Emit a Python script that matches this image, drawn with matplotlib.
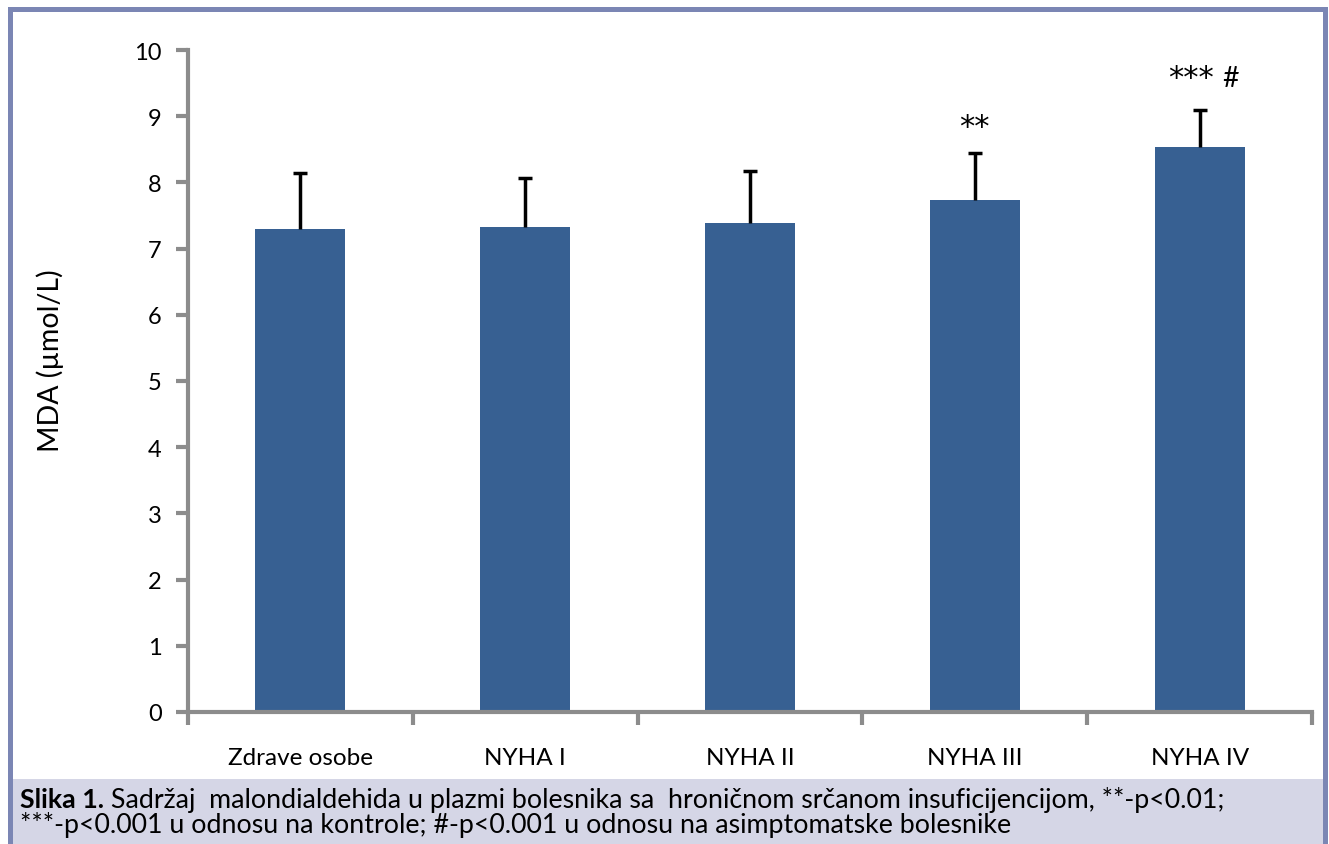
import matplotlib
matplotlib.use("Agg")
import matplotlib.pyplot as plt
from matplotlib.patches import Rectangle

categories = ["Zdrave osobe", "NYHA I", "NYHA II", "NYHA III", "NYHA IV"]
means = [7.30, 7.33, 7.39, 7.74, 8.53]
sds = [0.84, 0.74, 0.78, 0.71, 0.56]
annotations = ["", "", "", "**", "***"]
annotations2 = ["", "", "", "", "#"]
y_ticks = list(range(0, 11))
y_label = "MDA (µmol/L)"
caption_bold = "Slika 1."
caption_line1 = " Sadržaj  malondialdehida u plazmi bolesnika sa  hroničnom srčanom insuficijencijom, **-p<0.01;"
caption_line2 = "***-p<0.001 u odnosu na kontrole; #-p<0.001 u odnosu na asimptomatske bolesnike"

plt.rcParams['font.family'] = ['Lato', 'DejaVu Sans']

W, H = 1329, 845
fig = plt.figure(figsize=(W / 100, H / 100), dpi=100)

def px(x, y):
    return x / W, 1 - y / H

# frame and caption background
frame_col = "#7b86b4"
fig.patches.append(Rectangle(px(13, 845), (1323 - 13) / W, (845 - 780) / H,
                             transform=fig.transFigure, facecolor="#d5d6e6", edgecolor="none", zorder=0))
fig.patches.append(Rectangle(px(8, 845), 5 / W, (845 - 8) / H, transform=fig.transFigure,
                             facecolor=frame_col, edgecolor="none", zorder=1))
fig.patches.append(Rectangle(px(1323, 845), 5 / W, (845 - 8) / H, transform=fig.transFigure,
                             facecolor=frame_col, edgecolor="none", zorder=1))
fig.patches.append(Rectangle(px(8, 13), (1328 - 8) / W, 5 / H, transform=fig.transFigure,
                             facecolor=frame_col, edgecolor="none", zorder=1))

left, right = 188 / W, 1312 / W
bottom, top = 1 - 713 / H, 1 - 51 / H
ax = fig.add_axes([left, bottom, right - left, top - bottom])
ax.patch.set_alpha(0)

x = list(range(len(categories)))
ax.bar(x, means, width=0.4, color="#376092", zorder=2)
eb = ax.errorbar(x, means, yerr=[[0] * len(sds), sds], fmt="none", ecolor="black",
                 elinewidth=2.5, capsize=5, capthick=2.5, zorder=3)
eb[1][0].set_visible(False)  # hide lower caps

for xi, m, s, a, b in zip(x, means, sds, annotations, annotations2):
    if a and not b:
        ax.text(xi, m + s + 0.27, a, ha="center", va="baseline", fontsize=22,
                family="DejaVu Sans", color="black")
    elif a:
        ax.text(xi - 0.038, m + s + 0.36, a, ha="center", va="baseline", fontsize=22,
                family="DejaVu Sans", color="black")
        ax.text(xi + 0.137, m + s + 0.37, b, ha="center", va="baseline", fontsize=20.5, color="black")

ax.set_xlim(-0.5, len(categories) - 0.5)
ax.set_ylim(0, 10)
ax.set_yticks(y_ticks)
ax.set_yticklabels([str(t) for t in y_ticks], fontsize=17)
ax.set_xticks(x)
ax.set_xticklabels(categories, fontsize=17.5)
ax.tick_params(axis="x", length=0, pad=25)
ax.tick_params(axis="y", length=9, width=3, color="#8c8c8c", pad=10)
ax.set_xticks([i + 0.5 for i in range(-1, len(categories))], minor=True)
ax.tick_params(axis="x", which="minor", length=9, width=3, color="#8c8c8c", direction="out")

for side in ["top", "right"]:
    ax.spines[side].set_visible(False)
for side in ["left", "bottom"]:
    ax.spines[side].set_color("#8c8c8c")
    ax.spines[side].set_linewidth(3)

fig.text(50 / W, 1 - 361 / H, y_label, rotation=90, ha="center", va="center", fontsize=20.5)

# caption
cap_fs = 19.3
t1 = fig.text(20 / W, 1 - 800 / H, caption_bold, fontsize=cap_fs, fontweight="bold", ha="left", va="center")
fig.canvas.draw()
bb = t1.get_window_extent()
fig.text(bb.x1 / W, 1 - 800 / H, caption_line1, fontsize=cap_fs, ha="left", va="center")
fig.text(20 / W, 1 - 825 / H, caption_line2, fontsize=cap_fs, ha="left", va="center")

fig.savefig("out.png", dpi=100)
